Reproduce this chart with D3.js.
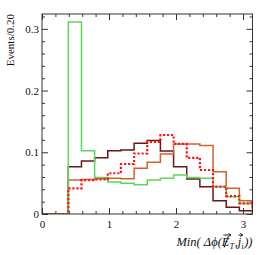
<!DOCTYPE html>
<html>
<head>
<meta charset="utf-8">
<script src="https://cdn.jsdelivr.net/npm/d3@7"></script>
<style>
  html, body { margin: 0; padding: 0; background: #fff; }
  svg { display: block; }
  svg text { font-family: "Liberation Serif", "DejaVu Serif", serif !important; fill: #111; }
</style>
</head>
<body>
<svg id="chart" width="266" height="255"></svg>
<script>
// ---- data (16 bins of width pi/16) ----
const nBins = 16;
const xMax = Math.PI;
const greenValues  = [0, 0, 0.311, 0.1026, 0.059, 0.052, 0.0497, 0.0475, 0.055, 0.058, 0.063, 0.059, 0.058, 0.044, 0.028, 0.017];
const maroonValues = [0, 0, 0.0767, 0.086, 0.091, 0.1026, 0.1037, 0.1145, 0.119, 0.102, 0.0767, 0.0567, 0.0443, 0.0216, 0.0108, 0.0054];
const orangeValues = [0, 0, 0.055, 0.056, 0.057, 0.058, 0.057, 0.074, 0.0838, 0.097, 0.1135, 0.1135, 0.111, 0.0686, 0.0416, 0.0216];
const redValues    = [0, 0, 0.0416, 0.055, 0.056, 0.066, 0.081, 0.098, 0.117, 0.128, 0.1135, 0.091, 0.0713, 0.0443, 0.029, 0.0173];
const xMajorTicks = [0, 1, 2, 3];
const xMajorLabels = ["0", "1", "2", "3"];
const yMajorTicks = [0, 0.1, 0.2, 0.3];
const yMajorLabels = ["0", "0.1", "0.2", "0.3"];
const yTitle = "Events/0.20";

// ---- layout ----
const L = 42, R = 252.5, T = 14, B = 214;
const svg = d3.select("#chart");
const x = d3.scaleLinear().domain([0, xMax]).range([L, R]);
const y = d3.scaleLinear().domain([0, 0.324]).range([B, T]);

const xMinor = d3.range(0, 3.01, 0.2).map(v => +v.toFixed(2)).filter(v => !xMajorTicks.includes(v));
const yMinor = d3.range(0, 0.3241, 0.02).map(v => +v.toFixed(3)).filter(v => !yMajorTicks.some(m => Math.abs(m - v) < 1e-6));

const axisColor = "#333";
function styleAxis(g) {
  g.attr("font-family", "Liberation Serif");
  g.select(".domain").remove();
  g.selectAll(".tick line").attr("stroke", axisColor).attr("stroke-width", 1);
}

// bottom
svg.append("g").attr("transform", `translate(0,${B})`)
  .call(d3.axisBottom(x).tickValues(xMajorTicks).tickSize(-6).tickFormat((d, i) => xMajorLabels[i]))
  .call(styleAxis)
  .call(g => g.selectAll("text").attr("font-size", 11).attr("fill", "#111").attr("dy", "0.71em").attr("y", 6));
svg.append("g").attr("transform", `translate(0,${B})`)
  .call(d3.axisBottom(x).tickValues(xMinor).tickSize(-3).tickFormat(""))
  .call(styleAxis);
// top
svg.append("g").attr("transform", `translate(0,${T})`)
  .call(d3.axisTop(x).tickValues(xMajorTicks).tickSize(-6).tickFormat(""))
  .call(styleAxis);
svg.append("g").attr("transform", `translate(0,${T})`)
  .call(d3.axisTop(x).tickValues(xMinor).tickSize(-3).tickFormat(""))
  .call(styleAxis);
// left
svg.append("g").attr("transform", `translate(${L},0)`)
  .call(d3.axisLeft(y).tickValues(yMajorTicks).tickSize(-6).tickFormat((d, i) => yMajorLabels[i]))
  .call(styleAxis)
  .call(g => g.selectAll("text").attr("font-size", 11).attr("fill", "#111").attr("x", -3));
svg.append("g").attr("transform", `translate(${L},0)`)
  .call(d3.axisLeft(y).tickValues(yMinor).tickSize(-3).tickFormat(""))
  .call(styleAxis);
// right
svg.append("g").attr("transform", `translate(${R},0)`)
  .call(d3.axisRight(y).tickValues(yMajorTicks).tickSize(-6).tickFormat(""))
  .call(styleAxis);
svg.append("g").attr("transform", `translate(${R},0)`)
  .call(d3.axisRight(y).tickValues(yMinor).tickSize(-3).tickFormat(""))
  .call(styleAxis);

// ---- histograms ----
const binW = xMax / nBins;
function stepPath(vals) {
  const pts = [[0, 0]];
  vals.forEach((v, i) => { pts.push([i * binW, v]); pts.push([(i + 1) * binW, v]); });
  pts.push([xMax, 0]);
  return d3.line().x(d => x(d[0])).y(d => y(d[1]))(pts);
}
const series = [
  { vals: maroonValues, color: "#6e1616", w: 1.5, dash: null },
  { vals: orangeValues, color: "#d0632c", w: 1.5, dash: null },
  { vals: greenValues,  color: "#5cd65c", w: 1.5, dash: null },
  { vals: redValues,    color: "#ff1414", w: 2.2, dash: "2.2,1.8" }
];
svg.append("clipPath").attr("id", "plotclip").append("rect")
  .attr("x", L).attr("y", T - 2).attr("width", R - L).attr("height", B - T + 2);
series.forEach(s => {
  svg.append("path").attr("d", stepPath(s.vals))
    .attr("fill", "none").attr("stroke", s.color).attr("stroke-width", s.w)
    .attr("stroke-dasharray", s.dash).attr("clip-path", "url(#plotclip)");
});

// frame
svg.append("rect").attr("x", L).attr("y", T).attr("width", R - L).attr("height", B - T)
  .attr("fill", "none").attr("stroke", axisColor).attr("stroke-width", 1);

// ---- titles ----
svg.append("text").attr("transform", `translate(14,${T}) rotate(-90)`)
  .attr("text-anchor", "end").attr("font-size", 11).text(yTitle);

// x title built from pieces, right-aligned at R
const baseY = 246;
const pieces = [
  { t: "Min( \u0394\u03D5(", fs: 12.5, dy: 0 },
  { t: "E", fs: 12.5, dy: 0, arrow: true, slash: true },
  { t: "T", fs: 8.5, dy: 2.5 },
  { t: ",", fs: 12.5, dy: 0 },
  { t: "j", fs: 12.5, dy: 0, arrow: true },
  { t: "i", fs: 8.5, dy: 2.5 },
  { t: "))", fs: 12.5, dy: 0 }
];
const tg = svg.append("g");
let cx = 0;
pieces.forEach(p => {
  const el = tg.append("text").attr("x", cx).attr("y", baseY + p.dy)
    .attr("font-size", p.fs).attr("font-style", "italic").text(p.t);
  const w = el.node().getComputedTextLength();
  if (p.slash) {
    tg.append("path").attr("d", `M${cx + w * 0.3},${baseY + 1.5}L${cx + w * 0.85},${baseY - 9.5}`)
      .attr("stroke", "#111").attr("stroke-width", 1).attr("fill", "none");
  }
  if (p.arrow) {
    const ax0 = cx + w * 0.2, ax1 = cx + w + 1.5, ay = baseY - 11;
    tg.append("path").attr("d", `M${ax0},${ay}L${ax1},${ay}M${ax1 - 2.5},${ay - 1.6}L${ax1},${ay}L${ax1 - 2.5},${ay + 1.6}`)
      .attr("stroke", "#111").attr("stroke-width", 0.9).attr("fill", "none");
  }
  cx += w + (p.fs < 10 ? 0.5 : 0);
});
tg.attr("transform", `translate(${R - cx},0)`);
</script>
</body>
</html>
